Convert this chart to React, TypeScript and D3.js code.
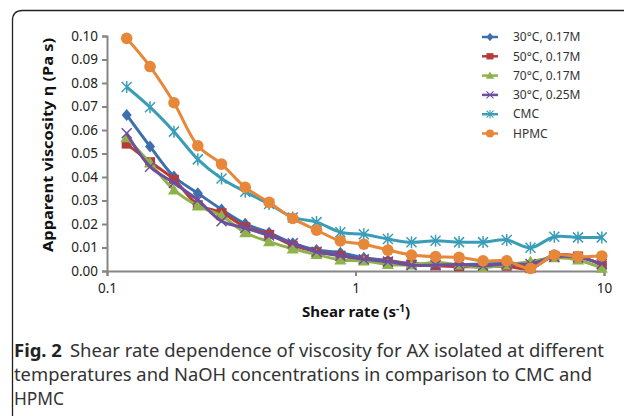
import React, { useRef, useEffect } from 'react'
import * as d3 from 'd3'

// shear rate (1/s)
const shearRate = [0.12, 0.149, 0.186, 0.232, 0.289, 0.36, 0.449, 0.559, 0.697, 0.869, 1.08,
    1.35, 1.68, 2.1, 2.61, 3.26, 4.06, 5.06, 6.31, 7.86, 9.8]

const s30_017 = [0.0664, 0.053, 0.0402, 0.0331, 0.0262, 0.0201, 0.0163, 0.0118, 0.0089, 0.0078, 0.0056,
    0.0045, 0.0032, 0.003, 0.0028, 0.003, 0.0032, 0.0022, 0.0068, 0.006, 0.003]
const s50_017 = [0.054, 0.0465, 0.039, 0.0282, 0.0248, 0.0188, 0.0156, 0.011, 0.0082, 0.0066, 0.0048,
    0.004, 0.003, 0.0022, 0.0018, 0.0018, 0.002, 0.001, 0.0066, 0.0064, 0.0025]
const s70_017 = [0.0567, 0.046, 0.0345, 0.0277, 0.0235, 0.0163, 0.0125, 0.0094, 0.007, 0.0047, 0.0043,
    0.0028, 0.0026, 0.0036, 0.0026, 0.0015, 0.0026, 0.004, 0.0056, 0.0047, 0.0012]
const s30_025 = [0.0586, 0.0444, 0.0375, 0.0302, 0.0212, 0.0183, 0.0151, 0.0118, 0.0082, 0.0065, 0.005,
    0.004, 0.0025, 0.0025, 0.0028, 0.0022, 0.003, 0.003, 0.006, 0.0058, 0.003]
const cmc = [0.0783, 0.0697, 0.0593, 0.0475, 0.0394, 0.0337, 0.0285, 0.0228, 0.0208, 0.0165, 0.0156,
    0.0136, 0.0122, 0.0129, 0.0123, 0.0123, 0.0132, 0.0099, 0.0146, 0.0143, 0.0143]
const hpmc = [0.099, 0.087, 0.0716, 0.0533, 0.0455, 0.0356, 0.0292, 0.0224, 0.0174, 0.0128, 0.0114,
    0.0089, 0.0068, 0.0061, 0.0058, 0.0043, 0.0043, 0.0011, 0.0068, 0.0061, 0.0064]

const seriesNames = ['30°C, 0.17M', '50°C, 0.17M', '70°C, 0.17M', '30°C, 0.25M', 'CMC', 'HPMC']
const seriesValues = [s30_017, s50_017, s70_017, s30_025, cmc, hpmc]
const seriesColors = ['#3d6eae', '#b73b3b', '#8fb24b', '#6c4f9d', '#3a9db8', '#e6873a']
const seriesMarkers = ['diamond', 'square', 'triangle', 'x', 'star', 'circle']

const yTicks = [0, 0.01, 0.02, 0.03, 0.04, 0.05, 0.06, 0.07, 0.08, 0.09, 0.1]
const xTicks = [0.1, 1, 10]

const FONT = "'Noto Sans', 'Open Sans', sans-serif"

function Marker({ type, x, y, color }) {
    if (type === 'diamond') {
        return <path d={`M${x},${y - 6}L${x + 5},${y}L${x},${y + 6}L${x - 5},${y}Z`} fill={color} />
    }
    if (type === 'square') {
        return <rect x={x - 5} y={y - 4.5} width={10} height={9} fill={color} />
    }
    if (type === 'triangle') {
        return <path d={`M${x},${y - 6}L${x + 6},${y + 4.5}L${x - 6},${y + 4.5}Z`} fill={color} />
    }
    if (type === 'x') {
        return <path d={`M${x - 5},${y - 5}L${x + 5},${y + 5}M${x + 5},${y - 5}L${x - 5},${y + 5}`}
            stroke={color} strokeWidth={1.5} />
    }
    if (type === 'star') {
        return <path d={`M${x - 5},${y - 5}L${x + 5},${y + 5}M${x + 5},${y - 5}L${x - 5},${y + 5}M${x},${y - 6}L${x},${y + 6}`}
            stroke={color} strokeWidth={1.5} />
    }
    return <circle cx={x} cy={y} r={5.8} fill={color} />
}

export default function App() {
    const xAxisRef = useRef(null)
    const yAxisRef = useRef(null)

    const xScale = d3.scaleLog().domain([0.1, 10]).range([107, 604])
    const yScale = d3.scaleLinear().domain([0, 0.1]).range([271, 36])

    useEffect(() => {
        const yAxis = d3.axisLeft(yScale)
            .tickValues(yTicks)
            .tickSize(5)
            .tickPadding(4)
            .tickFormat(d3.format('.2f'))
        const gy = d3.select(yAxisRef.current).call(yAxis)
        gy.selectAll('path, line').attr('stroke', '#868686').attr('stroke-width', 2)
        gy.selectAll('text').attr('font-family', FONT).attr('font-size', 13.5).attr('fill', '#222')

        const xAxis = d3.axisBottom(xScale)
            .tickValues(xTicks)
            .tickSize(5)
            .tickPadding(7)
            .tickFormat(d3.format('~g'))
        const gx = d3.select(xAxisRef.current).call(xAxis)
        gx.selectAll('path, line').attr('stroke', '#868686').attr('stroke-width', 2)
        gx.selectAll('text').attr('font-family', FONT).attr('font-size', 13.5).attr('fill', '#222')
    }, [])

    const line = d3.line()
        .x((d, i) => xScale(shearRate[i]))
        .y(d => yScale(d))
        .curve(d3.curveCatmullRom.alpha(0.5))

    return (
        <svg width={624} height={416} style={{ position: 'absolute', left: 0, top: 0, background: '#fff' }}>
            <path d="M624,10.5L22.5,10.5Q12.5,10.5 12.5,20.5L12.5,416" fill="none" stroke="#222" strokeWidth={1.3} />

            <g ref={yAxisRef} transform="translate(107,0)" />
            <g ref={xAxisRef} transform="translate(0,271)" />

            {seriesValues.map((vals, s) => (
                <g key={seriesNames[s]}>
                    <path d={line(vals)} fill="none" stroke={seriesColors[s]} strokeWidth={3} />
                    {vals.map((v, i) => (
                        <Marker key={i} type={seriesMarkers[s]} x={xScale(shearRate[i])} y={yScale(v)} color={seriesColors[s]} />
                    ))}
                </g>
            ))}

            <text transform="translate(53,145) rotate(-90)" textAnchor="middle" fontFamily={FONT}
                fontWeight="bold" fontSize={15} fill="#111" textLength={214} lengthAdjust="spacingAndGlyphs">
                Apparent viscosity η (Pa s)
            </text>
            <text x={356} y={317} textAnchor="middle" fontFamily={FONT} fontWeight="bold" fontSize={15} fill="#111">
                Shear rate (s<tspan fontSize={10} dy={-5}>-1</tspan><tspan dy={5}>)</tspan>
            </text>

            {seriesNames.map((name, s) => {
                const ly = 37 + s * 19.3
                return (
                    <g key={name}>
                        <line x1={482} x2={498} y1={ly} y2={ly} stroke={seriesColors[s]} strokeWidth={2.5} />
                        <g transform={`translate(490,${ly}) scale(0.7) translate(-490,${-ly})`}>
                            <Marker type={seriesMarkers[s]} x={490} y={ly} color={seriesColors[s]} />
                        </g>
                        <text x={513} y={ly} dy="0.35em" fontFamily={FONT} fontSize={12} fill="#333">{name}</text>
                    </g>
                )
            })}

            <g fontFamily={FONT} fontSize={18.5} fill="#333">
                <text x={14} y={357} textLength={590} lengthAdjust="spacingAndGlyphs">
                    <tspan fontWeight="bold" fill="#222">Fig. 2</tspan><tspan dx={8}>Shear rate dependence of viscosity for AX isolated at different</tspan>
                </text>
                <text x={14} y={381} textLength={578} lengthAdjust="spacingAndGlyphs">
                    temperatures and NaOH concentrations in comparison to CMC and
                </text>
                <text x={14} y={405} textLength={50} lengthAdjust="spacingAndGlyphs">HPMC</text>
            </g>
        </svg>
    )
}
